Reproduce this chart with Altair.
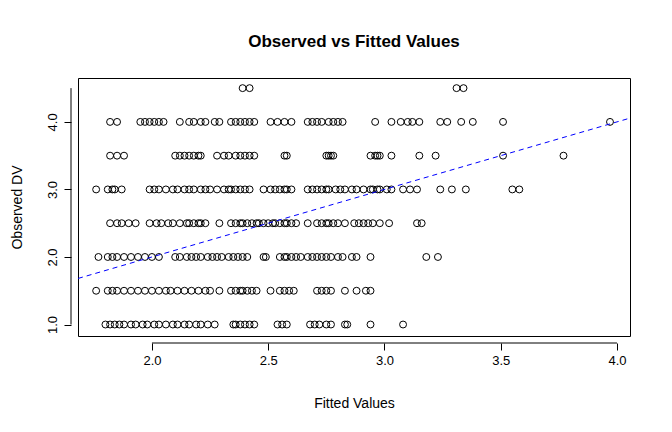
import altair as alt
import pandas as pd

# Observed DV levels and fitted values
y45 = [2.39, 2.42, 3.31, 3.34]
y40 = [1.82, 1.85, 1.95, 1.97, 1.99, 2.01, 2.03, 2.05, 2.12, 2.16, 2.18, 2.21, 2.23, 2.27, 2.29,
       2.34, 2.36, 2.38, 2.40, 2.42, 2.44, 2.51, 2.54, 2.57, 2.60, 2.67, 2.69, 2.71, 2.73, 2.76,
       2.78, 2.80, 2.82, 2.96, 3.03, 3.07, 3.10, 3.12, 3.15, 3.24, 3.27, 3.33, 3.38, 3.51, 3.97]
y35 = [1.82, 1.85, 1.88, 2.10, 2.12, 2.14, 2.16, 2.18, 2.20, 2.21, 2.28, 2.31, 2.33, 2.36, 2.38,
       2.40, 2.42, 2.44, 2.57, 2.58, 2.75, 2.76, 2.77, 2.78, 2.94, 2.96, 2.97, 2.98, 3.03, 3.15,
       3.22, 3.51, 3.77]
y30 = [1.76, 1.81, 1.83, 1.84, 1.87, 1.99, 2.01, 2.03, 2.06, 2.09, 2.11, 2.14, 2.16, 2.18, 2.21,
       2.23, 2.25, 2.28, 2.31, 2.33, 2.34, 2.36, 2.38, 2.40, 2.42, 2.48, 2.51, 2.53, 2.55, 2.57,
       2.58, 2.60, 2.67, 2.69, 2.71, 2.73, 2.75, 2.76, 2.79, 2.81, 2.83, 2.86, 2.88, 2.91, 2.94,
       2.95, 2.97, 2.98, 3.01, 3.03, 3.08, 3.11, 3.14, 3.24, 3.29, 3.35, 3.55, 3.58]
y25 = [1.82, 1.85, 1.87, 1.90, 1.93, 1.99, 2.02, 2.04, 2.07, 2.09, 2.12, 2.15, 2.16, 2.18, 2.20,
       2.21, 2.23, 2.29, 2.34, 2.36, 2.38, 2.39, 2.41, 2.43, 2.45, 2.46, 2.48, 2.50, 2.52, 2.53,
       2.55, 2.57, 2.58, 2.60, 2.62, 2.67, 2.71, 2.73, 2.75, 2.76, 2.78, 2.80, 2.83, 2.87, 2.89,
       2.91, 2.93, 2.95, 2.98, 3.02, 3.14, 3.16]
y20 = [1.77, 1.81, 1.83, 1.85, 1.88, 1.91, 1.94, 1.97, 2.00, 2.03, 2.10, 2.12, 2.15, 2.17, 2.19,
       2.21, 2.24, 2.26, 2.28, 2.30, 2.33, 2.35, 2.37, 2.39, 2.41, 2.48, 2.49, 2.55, 2.57, 2.58,
       2.60, 2.62, 2.64, 2.67, 2.69, 2.71, 2.73, 2.75, 2.77, 2.80, 2.82, 2.86, 2.88, 2.94, 3.18,
       3.23]
y15 = [1.76, 1.81, 1.83, 1.85, 1.88, 1.91, 1.94, 1.97, 2.00, 2.03, 2.06, 2.08, 2.11, 2.14, 2.17,
       2.20, 2.23, 2.25, 2.29, 2.34, 2.36, 2.38, 2.39, 2.41, 2.43, 2.45, 2.51, 2.55, 2.57, 2.59,
       2.61, 2.71, 2.73, 2.75, 2.77, 2.83, 2.88, 2.92, 2.94]
y10 = [1.80, 1.82, 1.84, 1.86, 1.88, 1.91, 1.93, 1.96, 1.98, 2.01, 2.03, 2.06, 2.09, 2.11, 2.14,
       2.16, 2.19, 2.21, 2.24, 2.27, 2.35, 2.36, 2.38, 2.40, 2.42, 2.44, 2.54, 2.56, 2.58, 2.68,
       2.70, 2.72, 2.75, 2.77, 2.83, 2.84, 2.94, 3.08]

levels = {4.5: y45, 4.0: y40, 3.5: y35, 3.0: y30, 2.5: y25, 2.0: y20, 1.5: y15, 1.0: y10}
rows = []
for obs, fits in levels.items():
    for f in fits:
        rows.append({"fitted": f, "observed": obs})
df = pd.DataFrame(rows)

x_ticks = [2.0, 2.5, 3.0, 3.5, 4.0]
y_ticks = [1.0, 1.5, 2.0, 2.5, 3.0, 3.5, 4.0, 4.5]
x_dom = [1.682, 4.056]
y_dom = [0.83, 4.65]

W, H = 552, 258
FONT = "Liberation Sans"

xs = alt.Scale(domain=x_dom, nice=False, zero=False)
ys = alt.Scale(domain=y_dom, nice=False, zero=False)

xaxis = alt.Axis(values=x_ticks, format=".1f", title="Fitted Values", domain=False,
                 grid=False, tickSize=7, offset=7, labelPadding=4, titlePadding=29,
                 labelFont=FONT, labelFontSize=13, titleFont=FONT, titleFontSize=14,
                 titleFontWeight="normal", labelColor="black", titleColor="black",
                 tickColor="black")
yaxis = alt.Axis(values=y_ticks, format=".1f", title="Observed DV", domain=False,
                 grid=False, tickSize=7, offset=7, labelAngle=-90, labelAlign="center",
                 labelBaseline="bottom", labelPadding=5,
                 labelExpr="datum.value % 1 == 0 ? format(datum.value, '.1f') : ''",
                 titlePadding=22, labelFont=FONT, labelFontSize=13, titleFont=FONT,
                 titleFontSize=14, titleFontWeight="normal", labelColor="black",
                 titleColor="black", tickColor="black")

points = alt.Chart(df).mark_point(shape="circle", filled=False, color="black",
                                  size=48, strokeWidth=1, opacity=1).encode(
    x=alt.X("fitted:Q", scale=xs, axis=xaxis),
    y=alt.Y("observed:Q", scale=ys, axis=yaxis),
)

line_df = pd.DataFrame({"fitted": x_dom, "observed": x_dom})
ref = alt.Chart(line_df).mark_line(color="blue", strokeDash=[5, 4], strokeWidth=1,
                                   clip=True).encode(
    x=alt.X("fitted:Q", scale=xs),
    y=alt.Y("observed:Q", scale=ys),
)

xdom_df = pd.DataFrame({"a": [x_ticks[0]], "b": [x_ticks[-1]]})
xline = alt.Chart(xdom_df).mark_rule(color="black", strokeWidth=1).encode(
    x=alt.X("a:Q", scale=xs), x2="b:Q", y=alt.value(H + 7))
ydom_df = pd.DataFrame({"a": [y_ticks[0]], "b": [y_ticks[-1]]})
yline = alt.Chart(ydom_df).mark_rule(color="black", strokeWidth=1).encode(
    y=alt.Y("a:Q", scale=ys), y2="b:Q", x=alt.value(-7))

chart = alt.layer(points, ref, xline, yline).properties(
    width=W, height=H,
    title=alt.TitleParams("Observed vs Fitted Values", font=FONT, fontSize=17,
                          fontWeight="bold", anchor="middle", offset=27, color="black"),
    autosize=alt.AutoSizeParams(type="none"),
    padding={"left": 70, "top": 70, "right": 30, "bottom": 90},
).configure(background="white").configure_view(stroke="black", strokeWidth=1)

chart.save("out.html", embed_options={"renderer": "svg", "actions": False})
